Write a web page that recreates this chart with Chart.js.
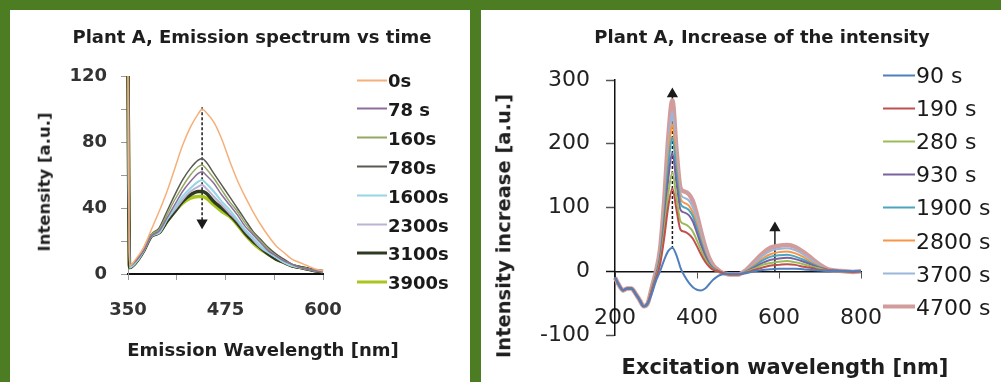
<!DOCTYPE html>
<html>
<head>
<meta charset="utf-8">
<script src="https://cdn.jsdelivr.net/npm/chart.js@4.4.1/dist/chart.umd.min.js"></script>
<style>
  html, body { margin: 0; padding: 0; }
  body { width: 1001px; height: 382px; background: #4c7d22; position: relative; overflow: hidden; font-family: 'DejaVu Sans', sans-serif; }
  .panel { position: absolute; top: 10px; height: 372px; background: #fff; }
  #panelA { left: 10px; width: 460px; }
  #panelB { left: 481px; width: 520px; }
  .panel canvas { position: absolute; left: 0; top: 0; }
  .ttl { position: absolute; font-weight: bold; color: #1e1e1e; white-space: nowrap; transform: translate(-50%, -50%); line-height: 1; }
  .ttl.rot { transform: translate(-50%, -50%) rotate(-90deg); }
  .legend .item { position: absolute; display: flex; align-items: center; white-space: nowrap; transform: translateY(-50%); line-height: 1; }
  .legend .swatch { display: inline-block; height: 0; margin-right: 1px; }
</style>
</head>
<body>
<div class="panel" id="panelA">
  <canvas id="chartA" width="460" height="372"></canvas>
  <div class="ttl" style="left:242px; top:27px; font-size:18px;">Plant A, Emission spectrum vs time</div>
  <div class="ttl rot" style="left:35px; top:172px; font-size:16.5px;">Intensity [a.u.]</div>
  <div class="ttl" style="left:253px; top:340px; font-size:18px;">Emission Wavelength [nm]</div>
  <div class="legend" id="legendA"></div>
</div>
<div class="panel" id="panelB">
  <canvas id="chartB" width="520" height="372"></canvas>
  <div class="ttl" style="left:281px; top:27px; font-size:18px;">Plant A, Increase of the intensity</div>
  <div class="ttl rot" style="left:23px; top:216px; font-size:19.5px;">Intensity increase [a.u.]</div>
  <div class="ttl" style="left:304px; top:357px; font-size:21px;">Excitation wavelength [nm]</div>
  <div class="legend" id="legendB"></div>
</div>
<script>
// ---- emission spectrum (left) ----
const emWavelengths = [350, 352, 360, 370, 380, 390, 400, 410, 420, 430, 440, 445, 450, 460, 470, 480, 490, 500, 510, 520, 530, 540, 550, 560, 570, 580, 590, 600];
const emLabels = ['0s', '78 s', '160s', '780s', '1600s', '2300s', '3100s', '3900s'];
const em0s    = [120, 5, 9, 16, 27, 38, 50, 64, 78, 89, 97, 100, 98, 92, 82, 69, 57, 47, 38, 30, 23, 17, 13, 9, 7, 5, 3, 2];
const em78s   = [120, 5, 8, 14, 23, 26, 34, 42, 50, 56, 61, 62, 60, 55, 48, 42, 36, 29, 24, 19, 14, 11, 8, 6, 4, 3, 2, 1.5];
const em160s  = [120, 5, 8, 15, 24, 27, 36, 45, 53, 60, 65, 66, 64, 58, 51, 44, 38, 31, 25, 20, 15, 11, 8, 6, 4, 3, 2, 1.5];
const em780s  = [120, 5, 8, 15, 24, 28, 38, 48, 57, 64, 69, 70, 68, 61, 54, 47, 40, 33, 26, 21, 16, 12, 9, 6, 4.5, 3, 2, 1.5];
const em1600s = [120, 4, 7, 14, 23, 25, 33, 40, 47, 52, 56, 57, 55, 50, 44, 39, 33, 27, 22, 17, 13, 10, 7, 5, 4, 3, 2, 1.5];
const em2300s = [120, 4, 7, 14, 23, 25, 33, 39, 45, 50, 53, 54, 52, 47, 42, 37, 32, 26, 21, 16, 13, 10, 7, 5, 4, 3, 2, 1.5];
const em3100s = [120, 4, 7, 14, 23, 25, 32, 38, 44, 48, 50, 50, 49, 44, 40, 36, 31, 25, 20, 16, 12, 9, 7, 5, 4, 3, 2, 1.5];
const em3900s = [120, 4, 7, 14, 23, 25, 32, 38, 43, 46, 47, 47, 46, 42, 38, 35, 30, 24, 19, 15, 12, 9, 7, 5, 4, 3, 2, 1.5];
const emColors = ['#f5b07a', '#8d6e9c', '#93a862', '#5a5a52', '#96d6e4', '#bcb3d4', '#2e3b22', '#a9c61c'];
const emWidths = [1.5, 1.5, 1.5, 1.5, 2, 2, 3.5, 3.5];
const emArrowX = [445, 445];
const emArrowY = [101, 31];

// ---- intensity increase (right) ----
const exWavelengths = [200, 210, 220, 230, 240, 250, 260, 270, 280, 290, 300, 310, 320, 330, 340, 350, 360, 370, 380, 390, 400, 410, 420, 430, 440, 450, 460, 470, 480, 500, 520, 540, 560, 580, 600, 620, 640, 660, 680, 700, 720, 740, 760, 780, 800];
const exLabels = ['90 s', '190 s', '280 s', '930 s', '1900 s', '2800 s', '3700 s', '4700 s'];
const inc90s   = [-10, -22, -30, -27, -27, -35, -45, -55, -50, -35, -15, 0, 18, 32, 37, 25, 5, -8, -18, -25, -29, -30, -27, -20, -13, -8, -5, -4, -4, -4, -3, 0, 2, 3, 4, 4, 4, 3, 2, 1, 0, 0, 0, 0, 0];
const inc190s  = [-10, -22, -30, -27, -27, -35, -45, -55, -50, -31, -11, 11, 52, 102, 130, 96, 65, 62, 58, 51, 39, 26, 15, 7, 2, 0, -2, -4, -5, -5, -2, 2, 6, 9, 10, 11, 10, 7, 5, 2, 1, 0, 0, -1, 0];
const inc280s  = [-10, -22, -30, -27, -27, -35, -45, -55, -50, -30, -9, 15, 62, 122, 155, 115, 78, 74, 70, 62, 48, 33, 19, 9, 3, 0, -2, -4, -5, -5, -1, 4, 10, 13, 15, 16, 14, 11, 7, 4, 1, 0, 0, -1, 0];
const inc930s  = [-10, -22, -30, -27, -27, -35, -45, -55, -50, -29, -7, 20, 74, 145, 185, 138, 96, 92, 88, 78, 60, 41, 24, 11, 4, 1, -2, -4, -5, -5, -1, 6, 13, 18, 20, 21, 19, 15, 10, 5, 2, 1, 0, -1, 0];
const inc1900s = [-10, -22, -30, -27, -27, -35, -45, -55, -50, -28, -5, 24, 84, 165, 210, 155, 106, 100, 96, 86, 67, 46, 27, 13, 5, 1, -2, -4, -5, -5, 0, 8, 17, 23, 25, 26, 23, 18, 12, 6, 2, 1, 0, -1, 0];
const inc2800s = [-10, -22, -30, -27, -27, -35, -45, -55, -50, -27, -4, 28, 92, 180, 230, 168, 114, 107, 103, 92, 73, 50, 30, 15, 6, 2, -2, -4, -5, -5, 0, 10, 20, 27, 30, 31, 28, 22, 14, 7, 2, 1, 0, -1, 0];
const inc3700s = [-10, -22, -30, -27, -27, -35, -45, -55, -50, -26, -2, 32, 100, 195, 250, 180, 122, 115, 111, 100, 80, 55, 33, 17, 7, 2, -2, -4, -5, -5, 1, 12, 24, 32, 35, 36, 33, 26, 17, 8, 2, 1, 0, -1, 0];
const inc4700s = [-10, -22, -30, -27, -27, -35, -45, -55, -50, -25, 0, 35, 110, 210, 268, 190, 130, 125, 121, 110, 88, 62, 38, 20, 9, 3, -2, -4, -5, -5, 2, 15, 28, 37, 40, 41, 38, 30, 20, 10, 3, 1, 0, -1, 0];
const exColors = ['#4f7fbd', '#c0504d', '#9bbb59', '#7a62a0', '#4aa7bf', '#f79646', '#9ab7db', '#d29c9c'];
const exWidths = [2, 2, 2, 2, 2, 2, 2, 4.5];
const exArrow1X = [340, 340];
const exArrow1Y = [35, 278];
const exArrow2X = [590, 590];
const exArrow2Y = [0, 68];

const FONT = "'DejaVu Sans', sans-serif";

function toPoints(xs, ys) {
    return xs.map((x, i) => ({ x: x, y: ys[i] }));
}

function seriesSets(xs, rows, labels, colors, widths) {
    return rows.map((ys, i) => ({
        label: labels[i],
        data: toPoints(xs, ys),
        borderColor: colors[i],
        backgroundColor: colors[i],
        borderWidth: widths[i],
        pointRadius: 0,
        cubicInterpolationMode: 'monotone',
        fill: false,
        clip: false
    }));
}

function arrowSet(xs, ys, dashed, up) {
    return {
        label: '',
        arrow: true,
        data: toPoints(xs, ys),
        borderColor: '#1b1b1b',
        backgroundColor: '#1b1b1b',
        borderWidth: 1.5,
        borderDash: dashed ? [3, 2] : [],
        pointRadius: [0, 5],
        pointStyle: 'triangle',
        rotation: up ? 0 : 180,
        fill: false,
        clip: false
    };
}

function buildLegend(chart, boxId, cfg) {
    const box = document.getElementById(boxId);
    chart.data.datasets.filter(ds => !ds.arrow).forEach((ds, i) => {
        const item = document.createElement('div');
        item.className = 'item';
        item.style.left = cfg.left + 'px';
        item.style.top = (cfg.firstY + i * cfg.step) + 'px';
        item.style.font = cfg.font;
        item.style.color = cfg.color;
        const sw = document.createElement('span');
        sw.className = 'swatch';
        sw.style.width = cfg.lineW + 'px';
        sw.style.borderTop = Math.max(2, Math.min(4, ds.borderWidth)) + 'px solid ' + ds.borderColor;
        const txt = document.createElement('span');
        txt.textContent = ds.label;
        item.appendChild(sw);
        item.appendChild(txt);
        box.appendChild(item);
    });
}

const emSets = seriesSets(emWavelengths, [em0s, em78s, em160s, em780s, em1600s, em2300s, em3100s, em3900s], emLabels, emColors, emWidths);
emSets.push(arrowSet(emArrowX, emArrowY, true, false));

const chartA = new Chart(document.getElementById('chartA'), {
    type: 'line',
    data: { datasets: emSets },
    options: {
        responsive: false,
        animation: false,
        layout: { padding: { top: 66, right: 147, bottom: 0, left: 0 } },
        plugins: { legend: { display: false }, title: { display: false }, tooltip: { enabled: false } },
        scales: {
            x: {
                type: 'linear', min: 350, max: 600,
                afterFit: s => { s.height = 108; },
                ticks: {
                    stepSize: 62.5, autoSkip: false, maxRotation: 0, padding: 20, color: '#333',
                    font: { family: FONT, size: 18, weight: 'bold' },
                    callback: v => ((v - 350) % 125 === 0 ? v : '')
                },
                grid: { drawOnChartArea: false, tickLength: 6, color: '#999' },
                border: { color: '#111', width: 2 }
            },
            y: {
                min: 0, max: 120,
                afterFit: s => { s.width = 118; },
                ticks: {
                    stepSize: 20, padding: 14, color: '#333',
                    font: { family: FONT, size: 18, weight: 'bold' },
                    callback: v => (v % 40 === 0 ? v : '')
                },
                grid: { drawOnChartArea: false, tickLength: 7, color: '#999' },
                border: { color: '#999', width: 1 }
            }
        }
    }
});
buildLegend(chartA, 'legendA', { left: 347, firstY: 70, step: 28.9, lineW: 30, font: 'bold 18px ' + FONT, color: '#1a1a1a' });

const exSets = seriesSets(exWavelengths, [inc90s, inc190s, inc280s, inc930s, inc1900s, inc2800s, inc3700s, inc4700s], exLabels, exColors, exWidths);
exSets.push(arrowSet(exArrow1X, exArrow1Y, true, true));
exSets.push(arrowSet(exArrow2X, exArrow2Y, false, true));

const chartB = new Chart(document.getElementById('chartB'), {
    type: 'line',
    data: { datasets: exSets },
    options: {
        responsive: false,
        animation: false,
        layout: { padding: { top: 70, right: 140, bottom: 47, left: 0 } },
        plugins: { legend: { display: false }, title: { display: false }, tooltip: { enabled: false } },
        scales: {
            x: {
                type: 'linear', min: 200, max: 800,
                position: { y: 0 },
                ticks: {
                    stepSize: 200, autoSkip: false, maxRotation: 0, padding: 28, color: '#222',
                    font: { family: FONT, size: 22 }
                },
                grid: { drawOnChartArea: false, tickLength: 6, color: '#555' },
                border: { color: '#111', width: 1.5 }
            },
            y: {
                min: -100, max: 300,
                afterFit: s => { s.width = 134; },
                ticks: { stepSize: 100, padding: 16, color: '#222', font: { family: FONT, size: 22 } },
                grid: {
                    drawOnChartArea: false, tickLength: 9,
                    tickColor: ctx => (ctx.tick && ctx.tick.value === 0 ? '#111' : '#555'),
                    tickWidth: 1.5
                },
                border: { color: '#111', width: 1.5 }
            }
        }
    }
});
buildLegend(chartB, 'legendB', { left: 402, firstY: 65, step: 33.1, lineW: 32, font: '22px ' + FONT, color: '#1a1a1a' });
</script>
</body>
</html>
